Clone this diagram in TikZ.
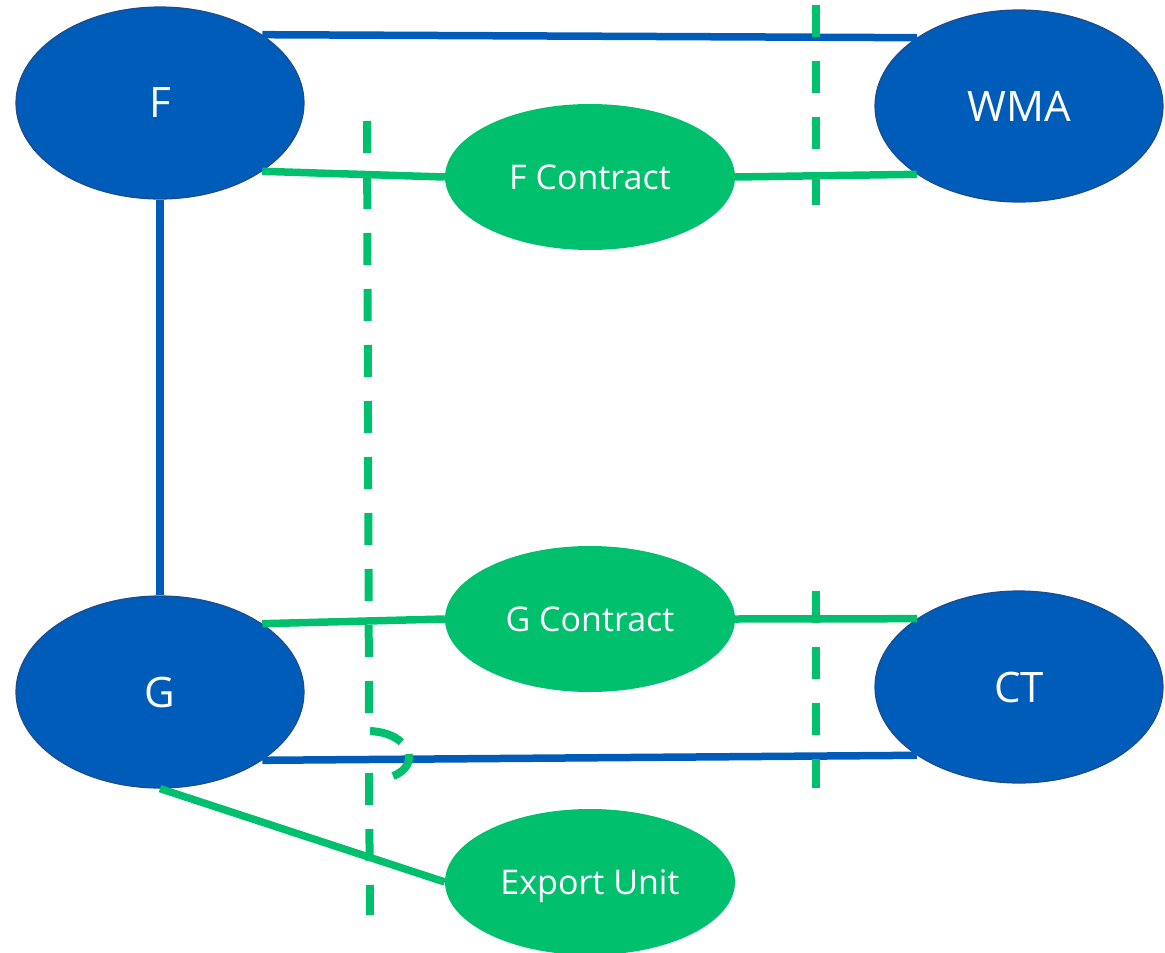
\documentclass[tikz,border=0pt]{standalone}
\usepackage{fontspec}
\setmainfont{Open Sans}
\usetikzlibrary{shapes.geometric}
\definecolor{unitblue}{RGB}{0,92,185}
\definecolor{unitedge}{RGB}{30,75,140}
\definecolor{deal}{RGB}{0,192,110}
\tikzset{
  unit/.style={ellipse, fill=unitblue, draw=unitedge, line width=1.2pt,
    minimum width=288pt, minimum height=192pt, inner sep=0pt,
    text=white, font=\fontsize{42}{42}\selectfont},
  contract/.style={ellipse, fill=deal, minimum width=290pt,
    minimum height=146pt, inner sep=0pt, text depth=0pt,
    text=white, font=\fontsize{34}{34}\selectfont},
  tie/.style={unitblue, line width=7.5pt},
  link/.style={deal, line width=7.5pt},
  border/.style={deal, line width=8pt, dash pattern=on 32pt off 24pt}
}

\begin{document}
\begin{tikzpicture}[x=1pt,y=-1pt]
  \useasboundingbox (0,0) rectangle (1165,953);
  \node[unit] (f) at (160,103) {F};
  \node[unit] (wma) at (1019,106) {WMA};
  \node[unit] (g) at (160,692) {G};
  \node[unit] (ct) at (1019,687) {CT};
  \node[contract] (fc) at (590,177) {F Contract};
  \node[contract] (gc) at (590,619) {G Contract};
  \node[contract] (eu) at (590,882) {Export Unit};
  \draw[tie] (f.north east) -- (wma.north west);
  \draw[tie] (f.south) -- (g.north);
  \draw[tie] (g.south east) -- (ct.south west);
  \draw[link] (f.south east) -- (fc.west);
  \draw[link] (fc.east) -- (wma.south west);
  \draw[link] (g.north east) -- (gc.west);
  \draw[link] (gc.east) -- (ct.north west);
  \draw[link] (g.south) -- (eu.west);
  % borders
  \coordinate (b1) at (367,121);
  \coordinate (b2) at (369,713);
  \coordinate (h1) at (370,731);
  \coordinate (h2) at (393,776);
  \coordinate (b3) at (369,773);
  \coordinate (b4) at (370,915);
  \coordinate (r1) at (816,5);
  \coordinate (r2) at (816,205);
  \coordinate (r3) at (816,591);
  \coordinate (r4) at (816,788);
  \draw[border] (b1) -- (b2);
  \draw[border, dash pattern=on 34pt off 14pt]
    (h1) .. controls (410,733) and (422,765) .. (h2);
  \draw[border] (b3) -- (b4);
  \draw[border] (r1) -- (r2);
  \draw[border] (r3) -- (r4);
\end{tikzpicture}
\end{document}
